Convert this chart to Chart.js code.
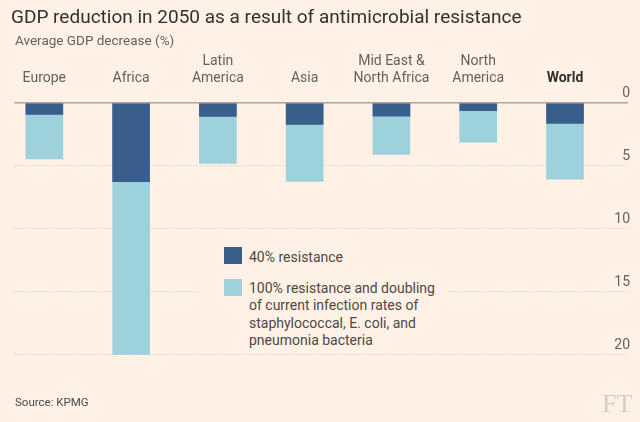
<!DOCTYPE html>
<html>
<head>
<meta charset="utf-8">
<script src="https://cdn.jsdelivr.net/npm/chart.js@4.4.1/dist/chart.umd.min.js"></script>
<style>
  html, body { margin: 0; padding: 0; background: #fff1e5; }
  #wrap { position: relative; width: 640px; height: 422px; font-family: Roboto, "Noto Sans", sans-serif; }
  #myChart { position: absolute; left: 0; top: 0; }
  .title { position: absolute; left: 11px; top: 5px; font-size: 19px; color: #33302e; white-space: nowrap; }
  .subtitle { position: absolute; left: 15px; top: 32px; font-size: 13.5px; color: #66605c; white-space: nowrap; }
  .legend { position: absolute; left: 200px; top: 242px; width: 249px; height: 108px; background: #fff1e5; }
  .sw { position: absolute; left: 0; width: 18px; height: 17px; }
  .lt { position: absolute; left: 49px; font-size: 14px; line-height: 17.6px; color: #4d4845; white-space: nowrap; }
  .source { position: absolute; left: 15px; top: 395px; font-size: 11.5px; color: #4d4845; }
  .ft { position: absolute; left: 602px; top: 389px; font-family: "Liberation Serif", serif; font-size: 26px; color: #d6cec6; }
</style>
</head>
<body>
<div id="wrap">
  <canvas id="myChart" width="640" height="422"></canvas>
  <div class="title">GDP reduction in 2050 as a result of antimicrobial resistance</div>
  <div class="subtitle">Average GDP decrease (%)</div>
  <div class="legend">
    <div class="sw" style="left:24px; top:5px; background:#3a5e8c;"></div>
    <div class="lt" style="top:6.5px;">40% resistance</div>
    <div class="sw" style="left:24px; top:37px; background:#9dd2dc;"></div>
    <div class="lt" style="top:37.5px;">100% resistance and doubling<br>of current infection rates of<br>staphylococcal, E. coli, and<br>pneumonia bacteria</div>
  </div>
  <div class="source">Source: KPMG</div>
  <div class="ft">FT</div>
</div>
<script>
const categories = [['Europe'], ['Africa'], ['Latin', 'America'], ['Asia'], ['Mid East &', 'North Africa'], ['North', 'America'], ['World']];
const resist40 = [0.93, 6.27, 1.08, 1.72, 1.06, 0.63, 1.64];
const resist100 = [4.47, 20.0, 4.81, 6.24, 4.10, 3.14, 6.06];
const yTicks = [0, 5, 10, 15, 20];

const toPoints = arr => arr.map((v, i) => ({x: i, y: v}));

// solid zero line over the dotted grid
const zeroLine = {
  id: 'zeroLine',
  afterDatasetsDraw(chart) {
    const {ctx, chartArea, scales} = chart;
    const y = scales.y.getPixelForValue(0);
    ctx.save();
    ctx.strokeStyle = '#aaa49f';
    ctx.lineWidth = 1.5;
    ctx.beginPath();
    ctx.moveTo(chartArea.left, y);
    ctx.lineTo(chartArea.right, y);
    ctx.stroke();
    ctx.restore();
  }
};

let ctx = document.getElementById('myChart');
new Chart(ctx, {
  type: 'bar',
  data: {
    datasets: [
      {
        label: '40% resistance',
        data: toPoints(resist40),
        backgroundColor: '#3a5e8c',
        order: 0
      },
      {
        label: '100% resistance',
        data: toPoints(resist100),
        backgroundColor: '#9dd2dc',
        order: 1
      }
    ]
  },
  options: {
    responsive: false,
    animation: false,
    events: [],
    layout: { padding: { left: 14.3, right: 12, top: 52.7, bottom: 67.3 } },
    datasets: { bar: { grouped: false, barThickness: 37 } },
    plugins: { legend: { display: false }, tooltip: { enabled: false } },
    scales: {
      x: {
        type: 'linear',
        position: 'top',
        offset: false,
        min: -0.346,
        max: 6.726,
        grid: { display: false },
        border: { display: false },
        afterBuildTicks: s => { s.ticks = categories.map((c, i) => ({value: i})); },
        afterFit: s => { s.height = 50; },
        ticks: {
          padding: 7.4,
          color: ctx => ctx.index === 6 ? '#33302e' : '#66605c',
          font: ctx => ({ family: 'Roboto', size: 14, lineHeight: 1.24, weight: ctx.index === 6 ? 'bold' : 'normal' }),
          callback: v => categories[v]
        }
      },
      y: {
        type: 'linear',
        position: 'right',
        reverse: true,
        min: 0,
        max: 20,
        afterBuildTicks: s => { s.ticks = yTicks.map(v => ({value: v})); },
        afterFit: s => { s.width = 0; },
        grid: {
          drawTicks: false,
          color: ctx => ctx.tick && ctx.tick.value === 0 ? 'rgba(0,0,0,0)' : '#cdc5be'
        },
        border: { display: false, dash: [1, 2] },
        ticks: {
          mirror: true,
          padding: 2,
          labelOffset: -9,
          color: '#66605c',
          font: { family: 'Roboto', size: 14 }
        }
      }
    }
  },
  plugins: [zeroLine]
});
</script>
</body>
</html>
